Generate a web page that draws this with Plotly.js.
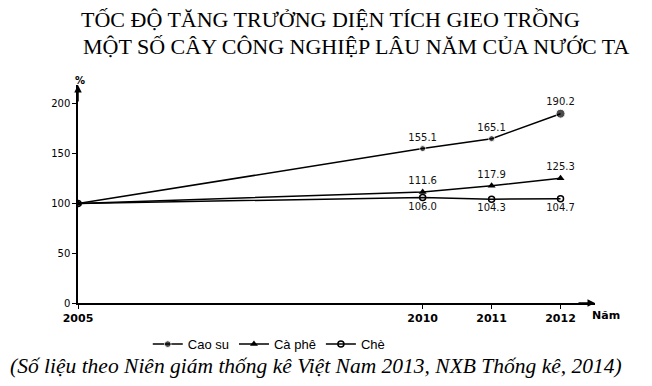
<!DOCTYPE html>
<html><head><meta charset="utf-8">
<script src="https://cdn.plot.ly/plotly-3.0.1.min.js"></script>
<style>body{margin:0;background:#fff}#c{width:652px;height:386px}</style>
</head><body><div id="c"></div>
<script>
const years = [2005, 2010, 2011, 2012];
const caoSu = [100, 155.1, 165.1, 190.2];
const caPhe = [100, 111.6, 117.9, 125.3];
const che = [100, 106.0, 104.3, 104.7];
const yTicks = [0, 50, 100, 150, 200];
const labelFont = {family: 'DejaVu Sans', size: 10, color: '#111'};
const fmt = a => a.map((v, i) => i === 0 ? '' : v.toFixed(1));

const traces = [
  {x: years, y: caoSu, name: 'Cao su', mode: 'lines+markers+text', text: fmt(caoSu), textposition: 'top center', textfont: labelFont,
   line: {color: '#000', width: 1.5}, marker: {symbol: 'circle', size: [6, 6, 6, 9], color: '#000'}},
  {x: years, y: caPhe, name: 'Cà phê', mode: 'lines+markers+text', text: fmt(caPhe), textposition: 'top center', textfont: labelFont,
   line: {color: '#000', width: 1.5}, marker: {symbol: 'triangle-up', size: 7, color: '#000'}},
  {x: years, y: che, name: 'Chè', mode: 'lines+markers+text', text: fmt(che), textposition: 'bottom center', textfont: labelFont,
   line: {color: '#000', width: 1.5}, marker: {symbol: 'circle-open', size: 6, color: '#000', line: {width: 1.5}}}
];

const layout = {
  width: 652, height: 386,
  margin: {l: 78, r: 57, t: 85, b: 83},
  paper_bgcolor: '#fff', plot_bgcolor: '#fff',
  showlegend: true,
  legend: {orientation: 'h', x: 0.369, xanchor: 'center', y: -0.12, yanchor: 'top',
    font: {family: 'Liberation Sans', size: 13, color: '#000'}, itemwidth: 30, tracegroupgap: 0},
  xaxis: {range: [2005, 2012.5], tickvals: years, ticktext: years.map(String), showgrid: false, zeroline: false,
    showline: true, linecolor: '#000', linewidth: 1.5, ticks: 'outside', ticklen: 4, tickcolor: '#000',
    tickfont: {family: 'DejaVu Sans', size: 11, color: '#000', weight: 'bold'}},
  yaxis: {range: [0, 219], tickvals: yTicks, showgrid: false, zeroline: false,
    showline: true, linecolor: '#000', linewidth: 1.5, ticks: 'outside', ticklen: 4, tickcolor: '#000',
    tickfont: {family: 'DejaVu Sans', size: 10, color: '#000'}},
  annotations: [
    {xref: 'paper', yref: 'paper', x: 0, y: 1, ax: 0, ay: 18, showarrow: true, arrowhead: 2, arrowsize: 1, arrowwidth: 1.5, arrowcolor: '#000', text: ''},
    {xref: 'paper', yref: 'paper', x: 1, y: 0, ax: -18, ay: 0, showarrow: true, arrowhead: 2, arrowsize: 1, arrowwidth: 1.5, arrowcolor: '#000', text: ''},
    {xref: 'paper', yref: 'paper', x: 0, y: 1, xshift: -5, yshift: 12, showarrow: false, text: '<b>%</b>', font: {family: 'DejaVu Sans', size: 10, color: '#000'}},
    {xref: 'paper', yref: 'paper', x: 1, y: 0, xanchor: 'left', yanchor: 'top', xshift: -5, yshift: -4, showarrow: false, text: '<b>Năm</b>', font: {family: 'DejaVu Sans', size: 11, color: '#000'}},
    {xref: 'paper', yref: 'paper', x: 331 / 652, y: 366 / 386, xanchor: 'center', yanchor: 'middle', showarrow: false,
     text: 'TỐC ĐỘ TĂNG TRƯỞNG DIỆN TÍCH GIEO TRỒNG', font: {family: 'Liberation Serif', size: 22, color: '#000'}},
    {xref: 'paper', yref: 'paper', x: 356 / 652, y: 339 / 386, xanchor: 'center', yanchor: 'middle', showarrow: false,
     text: 'MỘT SỐ CÂY CÔNG NGHIỆP LÂU NĂM CỦA NƯỚC TA', font: {family: 'Liberation Serif', size: 22, color: '#000'}},
    {xref: 'paper', yref: 'paper', x: 316 / 652, y: 20 / 386, xanchor: 'center', yanchor: 'middle', showarrow: false,
     text: '<i>(Số liệu theo Niên giám thống kê Việt Nam 2013, NXB Thống kê, 2014)</i>', font: {family: 'Liberation Serif', size: 21.5, color: '#000'}}
  ]
};
// convert pixel-fraction positions of title/caption annotations to plot-domain paper coords
const plotH = 386 - 85 - 83, plotW = 652 - 78 - 57;
layout.annotations.forEach(a => {
  if (a.text && a.text.length > 12) {
    const px = a.x * 652, py = 386 - a.y * 386;
    a.x = (px - 78) / plotW;
    a.y = (386 - 83 - py) / plotH;
  }
});
Plotly.newPlot('c', traces, layout, {displayModeBar: false});
</script></body></html>
